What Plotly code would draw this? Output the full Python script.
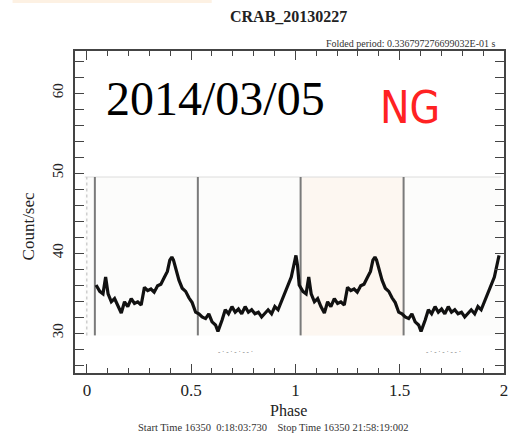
import plotly.graph_objects as go

# ---------------- data ----------------
# one folded cycle of the light curve (phase in the pasted plot's own units, count/sec)
cycle_phase = [0.000, 0.008, 0.016, 0.034, 0.050, 0.063, 0.075, 0.091, 0.107, 0.123,
               0.140, 0.156, 0.172, 0.189, 0.205, 0.221, 0.238, 0.254, 0.270, 0.286,
               0.302, 0.319, 0.335, 0.351, 0.367, 0.379, 0.389, 0.397, 0.408, 0.424,
               0.440, 0.457, 0.473, 0.489, 0.506, 0.522, 0.538, 0.555, 0.571, 0.587,
               0.604, 0.616, 0.636, 0.652, 0.668, 0.685, 0.701, 0.717, 0.733, 0.750,
               0.766, 0.782, 0.798, 0.815, 0.831, 0.847, 0.863, 0.880, 0.896, 0.912,
               0.928, 0.945, 0.961, 0.977, 0.994]
cycle_rate = [39.7, 38.4, 36.0, 35.2, 34.9, 37.0, 34.9, 33.9, 34.3, 33.3,
              32.5, 33.9, 33.3, 34.3, 33.7, 33.9, 33.5, 35.7, 35.3, 35.5,
              35.1, 35.9, 36.1, 36.9, 37.7, 39.1, 39.5, 39.1, 38.0, 36.6,
              35.6, 35.2, 34.4, 33.8, 32.6, 32.4, 32.0, 31.8, 32.4, 31.4,
              31.0, 30.2, 31.6, 32.9, 32.4, 33.3, 32.6, 33.0, 32.4, 33.3,
              32.6, 32.9, 32.4, 32.6, 32.0, 32.4, 32.9, 32.4, 33.3, 32.9,
              33.9, 34.9, 36.0, 37.0, 39.0]
n_cycles = [0, 1]
marker_phase = [0.010, 0.517, 1.023, 1.530]

x_tick_vals = [0, 0.5, 1, 1.5, 2]
x_tick_text = ["0", "0.5", "1", "1.5", "2"]
y_tick_vals = [30, 40, 50, 60]
y_tick_text = ["30", "40", "50", "60"]

title_text = "<b>CRAB_20130227</b>"
period_text = "Folded period: 0.336797276699032E-01 s"
date_text = "2014/03/05"
flag_text = "NG"
x_title = "Phase"
y_title = "Count/sec"
time_text = "Start Time 16350  0:18:03:730    Stop Time 16350 21:58:19:002"

# ---------------- build ----------------
phase, rate = [], []
for k in n_cycles:
    for p, r in zip(cycle_phase, cycle_rate):
        phase.append(p + k)
        rate.append(r)
phase.append(cycle_phase[0] + 2)
rate.append(cycle_rate[0])
vis = [(p, r) for p, r in zip(phase, rate) if p >= 0.012]
phase = [v[0] for v in vis]
rate = [v[1] for v in vis]

W, H = 510, 434
L, R, T, B = 75, 2, 51, 61
PW, PH = W - L - R, H - T - B


def px(x):
    return (x - L) / PW


def py(y):
    return (H - B - y) / PH


SERIF = "Liberation Serif, Times New Roman, serif"

fig = go.Figure()
# empty trace so that the main (x, y) frame is drawn
fig.add_trace(go.Scatter(x=[], y=[], xaxis="x", yaxis="y", mode="lines",
                         hoverinfo="skip", showlegend=False))
fig.add_trace(go.Scatter(x=phase, y=rate, xaxis="x2", yaxis="y", mode="lines",
                         line=dict(color="#111111", width=3.2), hoverinfo="skip",
                         showlegend=False))

shapes = []
# pasted inner plot background
shapes.append(dict(type="rect", xref="x2", yref="y", x0=-0.04, x1=2.01, y0=29.7, y1=49.5,
                   fillcolor="#fcfcfb", line=dict(width=0), layer="below"))
shapes.append(dict(type="rect", xref="x2", yref="y", x0=marker_phase[2], x1=marker_phase[3],
                   y0=29.7, y1=49.5, fillcolor="#fdf7f1", line=dict(width=0), layer="below"))
shapes.append(dict(type="line", xref="x2", yref="y", x0=-0.04, x1=2.01, y0=49.5, y1=49.5,
                   line=dict(color="#dcdcdc", width=1), layer="below"))
shapes.append(dict(type="line", xref="x2", yref="y", x0=-0.03, x1=-0.03, y0=29.7, y1=49.5,
                   line=dict(color="#cfcfcf", width=1.5, dash="dot"), layer="below"))
for m in marker_phase:
    shapes.append(dict(type="line", xref="x2", yref="y", x0=m, x1=m, y0=29.7, y1=49.5,
                       line=dict(color="#7a7a7a", width=2), layer="below"))
# peach strip at very top-left of the collage
shapes.append(dict(type="rect", xref="paper", yref="paper", x0=px(12), x1=px(213),
                   y0=py(3), y1=py(0), fillcolor="#fdf1e3", line=dict(width=0)))

ann = [
    dict(text=title_text, x=px(290), y=py(17), font=dict(size=16, family=SERIF, color="#222")),
    dict(text=period_text, x=px(502), y=py(44), xanchor="right",
         font=dict(size=10, family=SERIF, color="#333")),
    dict(text=date_text, x=px(104), y=py(99), xanchor="left",
         font=dict(size=48, family=SERIF, color="#000")),
    dict(text=flag_text, x=px(381), y=py(108), xanchor="left",
         font=dict(size=44, family="Liberation Sans Narrow, DejaVu Sans Condensed, sans-serif",
                   color="#ff2222")),
    dict(text=x_title, x=px(290), y=py(411), font=dict(size=16, family=SERIF, color="#222")),
    dict(text=time_text, x=px(275), y=py(427), font=dict(size=10.5, family=SERIF, color="#333")),
    dict(text=y_title, x=px(28), y=py(226), textangle=-90,
         font=dict(size=17, family=SERIF, color="#222")),
    dict(text="- · - · - · ‐ ‐ ·", x=px(237), y=py(352),
         font=dict(size=7, family=SERIF, color="#555")),
    dict(text="- · - · - · ‐ ‐ ·", x=px(447), y=py(352),
         font=dict(size=7, family=SERIF, color="#555")),
]
for a in ann:
    a.update(xref="paper", yref="paper", showarrow=False)
    a.setdefault("xanchor", "center")
    a.setdefault("yanchor", "middle")

axis_common = dict(showgrid=False, zeroline=False, showline=True, linecolor="#444",
                   linewidth=1.5, mirror="allticks", ticks="inside", tickcolor="#444",
                   tickwidth=1.3, ticklabeloverflow="allow")

fig.update_layout(
    width=W, height=H,
    margin=dict(l=L, r=R, t=T, b=B, pad=0),
    paper_bgcolor="white", plot_bgcolor="white",
    showlegend=False,
    shapes=shapes, annotations=ann,
    xaxis=dict(range=[-0.057, 2.0005], tickvals=x_tick_vals, ticktext=x_tick_text,
               ticklen=9, ticklabelstandoff=1,
               minor=dict(dtick=0.1, tick0=0, ticklen=5, ticks="inside",
                          tickcolor="#444", tickwidth=1.2),
               tickfont=dict(size=17, family=SERIF, color="#222"), **axis_common),
    xaxis2=dict(range=[(L - 93) / 205, (L + PW - 93) / 205], overlaying="x",
                visible=False),
    yaxis=dict(range=[25, 65.25], tickvals=y_tick_vals, ticktext=y_tick_text,
               ticklen=9, tickangle=-90, ticklabelstandoff=4,
               minor=dict(dtick=2, tick0=0, ticklen=5, ticks="inside",
                          tickcolor="#444", tickwidth=1.2),
               tickfont=dict(size=15, family=SERIF, color="#222"), **axis_common),
)

fig.write_html("out.html", config={"displayModeBar": False},
               post_script="document.body.style.margin='0';document.body.style.padding='0';")
